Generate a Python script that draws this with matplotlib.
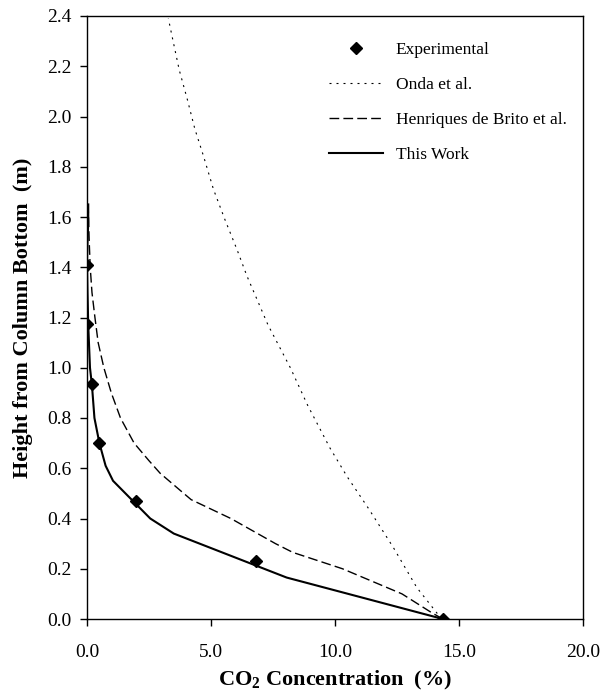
import numpy as np
import matplotlib
matplotlib.use('Agg')
import matplotlib.pyplot as plt

plt.rcParams['font.family'] = ['Liberation Serif', 'DejaVu Serif']
plt.rcParams['mathtext.fontset'] = 'custom'
plt.rcParams['mathtext.rm'] = 'Liberation Serif'
plt.rcParams['mathtext.bf'] = 'Liberation Serif:bold'

# experimental CO2 profile (%, m)
expX = [14.35, 6.8, 1.98, 0.48, 0.19, 0.02, 0.02]
expY = [0.0, 0.23, 0.47, 0.70, 0.935, 1.175, 1.41]

# Onda et al. model
ondaX = [14.3, 13.3, 12.35, 11.35, 10.5, 9.8, 8.9, 8.2, 7.3, 6.45, 6.05, 5.56, 5.1, 4.69, 4.35, 4.04, 3.72, 3.45, 3.28]
ondaY = [0.0, 0.125, 0.285, 0.44, 0.565, 0.68, 0.85, 1.0, 1.17, 1.365, 1.47, 1.59, 1.71, 1.845, 1.95, 2.07, 2.185, 2.31, 2.39]

# Henriques de Brito et al. model
henX = [14.35, 13.9, 12.7, 10.3, 8.3, 7.6, 5.8, 4.2, 3.9, 2.95, 2.5, 1.9, 1.35, 0.98, 0.68, 0.45, 0.32, 0.2, 0.13, 0.09, 0.06, 0.05]
henY = [0.0, 0.025, 0.1, 0.2, 0.265, 0.3, 0.4, 0.475, 0.5, 0.58, 0.63, 0.7, 0.8, 0.9, 1.0, 1.1, 1.2, 1.3, 1.4, 1.5, 1.6, 1.64]

# this work model
workX = [14.35, 8.05, 3.5, 2.55, 1.05, 0.75, 0.5, 0.3, 0.2, 0.12, 0.05, 0.02, 0.0, 0.02, 0.05, 0.05]
workY = [0.0, 0.165, 0.34, 0.40, 0.55, 0.61, 0.70, 0.80, 0.93, 1.0, 1.17, 1.3, 1.42, 1.5, 1.58, 1.65]

xticks = [0, 5, 10, 15, 20]
yticks = np.arange(0, 2.41, 0.2)

fig = plt.figure(figsize=(6.03, 6.94), dpi=100)
ax = fig.add_axes([87/603, 1-619/694, 496/603, 603/694])

ax.plot(expX, expY, 'D', color='black', markersize=6, label='Experimental', zorder=5)
ax.plot(ondaX, ondaY, color='black', lw=0.8, linestyle=(0, (1.8, 4.5)), label='Onda et al.')
ax.plot(henX, henY, color='black', lw=1.0, linestyle=(0, (7, 3)), label='Henriques de Brito et al.')
ax.plot(workX, workY, color='black', lw=1.5, label='This Work')

ax.set_xlim(0, 20)
ax.set_ylim(0, 2.4)
ax.set_xticks(xticks)
ax.set_yticks(yticks)
ax.xaxis.set_major_formatter(matplotlib.ticker.FormatStrFormatter('%.1f'))
ax.yaxis.set_major_formatter(matplotlib.ticker.FormatStrFormatter('%.1f'))
ax.tick_params(direction='out', length=5, width=1, labelsize=14)
ax.tick_params(axis='x', pad=13)
ax.tick_params(axis='y', pad=6)
for s in ax.spines.values():
    s.set_linewidth(1.0)

ax.set_xlabel(r'CO$_\mathbf{2}$ Concentration  (%)', fontsize=16, fontweight='bold', labelpad=6)
ax.set_ylabel('Height from Column Bottom  (m)', fontsize=16, fontweight='bold', labelpad=10)

ax.legend(loc='upper left', bbox_to_anchor=(0.488, 0.957), frameon=False, fontsize=12.5,
          handlelength=3.1, handletextpad=0.75, labelspacing=1.08, borderpad=0, borderaxespad=0)

plt.savefig('out.png', dpi=100)
